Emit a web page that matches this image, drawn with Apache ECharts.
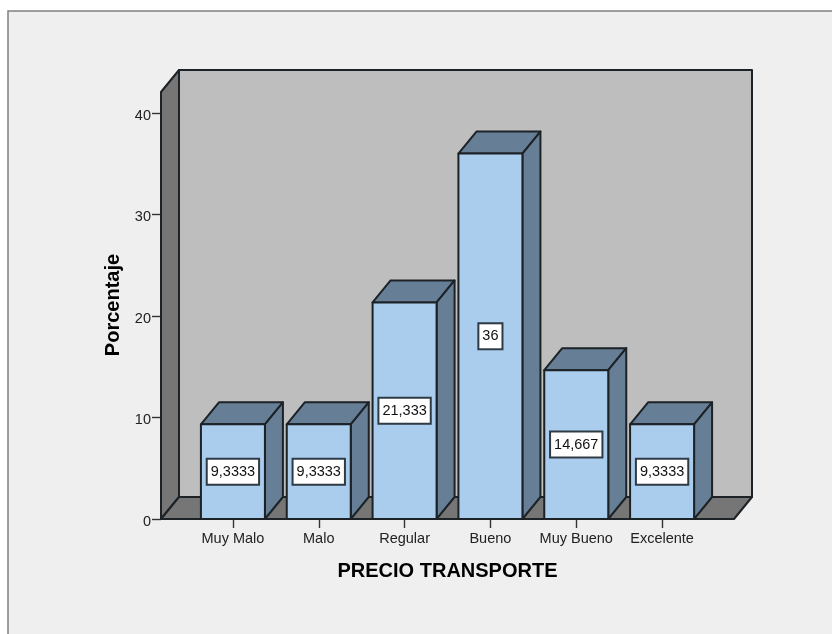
<!DOCTYPE html>
<html>
<head>
<meta charset="utf-8">
<style>html,body{margin:0;padding:0;background:#fff}#c{width:832px;height:634px}</style>
<script src="https://cdn.jsdelivr.net/npm/echarts@6/dist/echarts.min.js"></script>
</head>
<body>
<div id="c"></div>
<script>
const categories = ['Muy Malo', 'Malo', 'Regular', 'Bueno', 'Muy Bueno', 'Excelente'];
const percentages = [9.3333, 9.3333, 21.333, 36, 14.667, 9.3333];
const yTicks = [0, 10, 20, 30, 40];

const DX = 18, DY = 22, SIDE = 29, OVER = 21, BAR_W = 64;
const INK = '#1c2226';
const chart = echarts.init(document.getElementById('c'), null, {renderer: 'canvas'});

function poly(points, fill) {
  return {type: 'polygon', shape: {points}, style: {fill, stroke: INK, lineWidth: 2, lineJoin: 'round'}};
}
function renderWalls(params) {
  const g = params.coordSys;
  const l = g.x - SIDE, r = g.x + g.width + SIDE, b = g.y + g.height, t = g.y - OVER;
  return {type: 'group', children: [
    poly([[l + DX, t - DY], [r + DX, t - DY], [r + DX, b - DY], [l + DX, b - DY]], '#bebebe'),
    poly([[l, t], [l + DX, t - DY], [l + DX, b - DY], [l, b]], '#767676'),
    poly([[l, b], [l + DX, b - DY], [r + DX, b - DY], [r, b]], '#767676')
  ]};
}
function renderBar(params, api) {
  const v = api.value(1);
  const base = api.coord([api.value(0), 0]);
  const top = api.coord([api.value(0), v]);
  const mid = api.coord([api.value(0), v / 2]);
  const x0 = base[0] - BAR_W / 2, x1 = base[0] + BAR_W / 2;
  return {type: 'group', children: [
    poly([[x0, top[1]], [x0 + DX, top[1] - DY], [x1 + DX, top[1] - DY], [x1, top[1]]], '#667f96'),
    poly([[x1, top[1]], [x1 + DX, top[1] - DY], [x1 + DX, base[1] - DY], [x1, base[1]]], '#667f96'),
    poly([[x0, top[1]], [x1, top[1]], [x1, base[1]], [x0, base[1]]], '#aacdee'),
    {type: 'text', x: mid[0], y: mid[1], style: {
      text: String(v).replace('.', ','), x: 0, y: 0, align: 'center', verticalAlign: 'middle',
      font: '14.5px "Liberation Sans", Arial, sans-serif', fill: '#111',
      backgroundColor: '#fff', borderColor: '#2e3a44', borderWidth: 2, padding: [5, 3, 4, 3]
    }}
  ]};
}
chart.setOption({
  animation: false,
  backgroundColor: '#fff',
  graphic: [{type: 'rect', z: -10, shape: {x: 8, y: 11, width: 830, height: 630},
    style: {fill: '#efefef', stroke: '#808080', lineWidth: 1.5}}],
  grid: {left: 190, right: 127, top: 113, bottom: 115},
  xAxis: {
    type: 'category', data: categories, boundaryGap: true,
    name: 'PRECIO TRANSPORTE', nameLocation: 'center', nameGap: 42,
    nameTextStyle: {fontFamily: 'Liberation Sans', fontWeight: 'bold', fontSize: 20, color: '#000'},
    axisLine: {show: false},
    axisTick: {show: true, alignWithLabel: true, length: 9, lineStyle: {color: '#333', width: 1.4}},
    axisLabel: {fontFamily: 'Liberation Sans', fontSize: 14.5, color: '#222', margin: 12, interval: 0}
  },
  yAxis: {
    type: 'value', min: 0, max: 40, interval: 10, offset: 29,
    name: 'Porcentaje', nameLocation: 'center', nameGap: 38, nameRotate: 90,
    nameTextStyle: {fontFamily: 'Liberation Sans', fontWeight: 'bold', fontSize: 20, color: '#000', padding: [0, 0, 0, 22]},
    splitLine: {show: false},
    axisLine: {show: false},
    axisTick: {show: true, length: 9, lineStyle: {color: '#333', width: 1.4}},
    axisLabel: {margin: 10,
      formatter: v => yTicks.includes(v) ? '{t|' + v + '}' : '',
      rich: {t: {fontFamily: 'Liberation Sans', fontSize: 14.5, color: '#222', padding: [5, 0, 0, 0]}}}
  },
  series: [
    {type: 'custom', renderItem: renderWalls, data: [[0, 0]], clip: false, silent: true, z: 1},
    {type: 'custom', renderItem: renderBar, clip: false, z: 2,
      encode: {x: 0, y: 1},
      data: categories.map((c, i) => [i, percentages[i]])}
  ]
});
</script>
</body>
</html>
